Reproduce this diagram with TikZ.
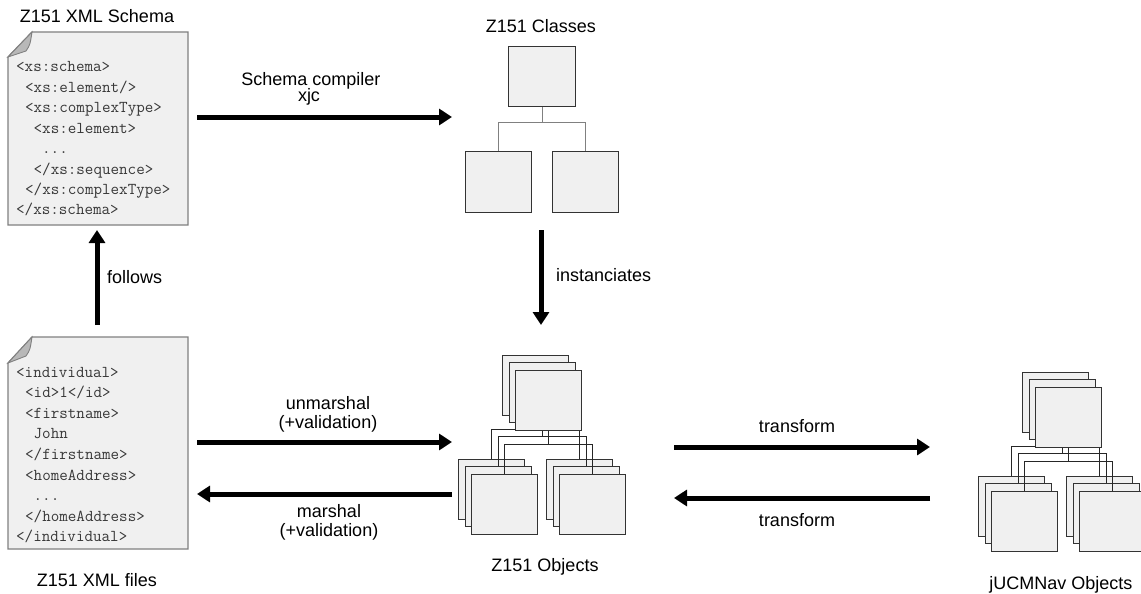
\documentclass[tikz,border=0pt]{standalone}
\usepackage{fontspec}
\setmainfont{Liberation Sans}
\usetikzlibrary{arrows.meta}

\tikzset{
  doc/.style={draw=black!50, line width=1.3pt, fill=black!6},
  fold/.style={draw=black!50, line width=0.9pt, fill=black!28},
  xml/.style={anchor=base west, inner sep=0pt, font=\ttfamily\fontsize{16.6}{18}\selectfont, text=black!78},
  lbl/.style={anchor=base, inner sep=0pt, font=\fontsize{18}{21}\selectfont},
  flow/.style={line width=5pt, -{Triangle[length=13pt,width=16pt]}},
  cls/.style={draw=black!80, line width=1.2pt, fill=black!6, inner sep=0pt,
    minimum width=66pt, minimum height=60pt, anchor=north west},
  obj/.style={draw=black!80, line width=1.1pt, fill=black!6, inner sep=0pt,
    minimum width=66pt, minimum height=60pt, anchor=north west},
  clink/.style={draw=black!50, line width=1pt},
  olink/.style={draw=black!85, line width=1.1pt},
}

\begin{document}
\begin{tikzpicture}[x=1pt,y=-1pt]
\useasboundingbox (0,0) rectangle (1141,594);
\fill[white] (0,0) rectangle (1141,594);
\clip (0,0) rectangle (1141,594);

% ---------- schema document ----------
\draw[doc] (32,32) -- (188,32) -- (188,225) -- (8,225) -- (8,57) -- cycle;
\filldraw[fold] (32,32) -- (8,57) -- (26,51) .. controls (30,45) .. (32,32) -- cycle;
\node[xml] (s1) at (16,72)     {<xs:schema>};
\node[xml] (s2) at (25,92.4)   {<xs:element/>};
\node[xml] (s3) at (25,112.8)  {<xs:complexType>};
\node[xml] (s4) at (33.5,133.2){<xs:element>};
\node[xml] (s5) at (42,153.6)  {...};
\node[xml] (s6) at (33.5,174)  {</xs:sequence>};
\node[xml] (s7) at (25,194.4)  {</xs:complexType>};
\node[xml] (s8) at (16,214.8)  {</xs:schema>};
\node[lbl] (schemaTitle) at (97,23) {Z151 XML Schema};

% ---------- instance document ----------
\draw[doc] (32,337) -- (188,337) -- (188,549) -- (8,549) -- (8,363) -- cycle;
\filldraw[fold] (32,337) -- (8,363) -- (26,356) .. controls (30,350) .. (32,337) -- cycle;
\node[xml] (x1) at (16,377)    {<individual>};
\node[xml] (x2) at (25,397.6)  {<id>1</id>};
\node[xml] (x3) at (25,418.2)  {<firstname>};
\node[xml] (x4) at (33.5,438.8){John};
\node[xml] (x5) at (25,459.4)  {</firstname>};
\node[xml] (x6) at (25,480)    {<homeAddress>};
\node[xml] (x7) at (33.5,500.6){...};
\node[xml] (x8) at (25,521.2)  {</homeAddress>};
\node[xml] (x9) at (16,541.8)  {</individual>};
\node[lbl] (filesTitle) at (97,586) {Z151 XML files};

% ---------- generated classes ----------
\node[cls, minimum width=67pt] (cTop) at (508,46) {};
\node[cls, minimum height=61pt] (cLeft) at (465,151) {};
\node[cls, minimum height=61pt] (cRight) at (552,151) {};
\coordinate (cJoin) at (0,122);
\draw[clink] (cTop.south) -- (cTop.south |- cJoin);
\draw[clink] (cLeft.north) -- (cLeft.north |- cJoin) -- (cRight.north |- cJoin) -- (cRight.north);
\node[lbl] (classesTitle) at (541,33) {Z151 Classes};

% ---------- object trees (three stacked layers each) ----------
\foreach \g/\sx/\sy in {z/0/0, j/520/17}{
  \begin{scope}[shift={(\sx,\sy)}]
    \foreach \k in {0,1,2}{
      \node[obj] (\g t\k) at (502+6.5*\k, 355+7.3*\k) {};
      \node[obj] (\g l\k) at (458+6.5*\k, 459+7.3*\k) {};
      \node[obj] (\g r\k) at (546+6.5*\k, 459+7.3*\k) {};
      \coordinate (\g j\k) at (0, 429.6+7.3*\k);
      \draw[olink] (\g t\k.south) -- (\g t\k.south |- \g j\k);
      \draw[olink] (\g l\k.north) -- (\g l\k.north |- \g j\k)
        -- (\g r\k.north |- \g j\k) -- (\g r\k.north);
    }
  \end{scope}
}
\node[lbl] (objTitle) at (545,571) {Z151 Objects};
\node[lbl] (jucmTitle) at (1061,589) {jUCMNav Objects};

% ---------- flows ----------
\coordinate (compFrom) at (197,117);  \coordinate (compTo) at (452,117);
\coordinate (folFrom) at (97,325);    \coordinate (folTo) at (97,230);
\coordinate (instFrom) at (541,230);  \coordinate (instTo) at (541,325);
\coordinate (unmFrom) at (197,442);   \coordinate (unmTo) at (452,442);
\coordinate (marFrom) at (452,494);   \coordinate (marTo) at (197,494);
\coordinate (trAFrom) at (674,447);   \coordinate (trATo) at (930,447);
\coordinate (trBFrom) at (930,498);   \coordinate (trBTo) at (674,498);

\draw[flow] (compFrom) -- (compTo);
\draw[flow] (folFrom) -- (folTo);
\draw[flow] (instFrom) -- (instTo);
\draw[flow] (unmFrom) -- (unmTo);
\draw[flow] (marFrom) -- (marTo);
\draw[flow] (trAFrom) -- (trATo);
\draw[flow] (trBFrom) -- (trBTo);

\node[lbl] (compL1) at (311,85) {Schema compiler};
\node[lbl] (compL2) at (309,101) {xjc};
\node[lbl, anchor=base west] (folL) at (107,283) {follows};
\node[lbl, anchor=base west] (instL) at (556,281) {instanciates};
\node[lbl] (unmL1) at (328,409) {unmarshal};
\node[lbl] (unmL2) at (328,428) {(+validation)};
\node[lbl] (marL1) at (329,517) {marshal};
\node[lbl] (marL2) at (329,536) {(+validation)};
\node[lbl] (trAL) at (797,432) {transform};
\node[lbl] (trBL) at (797,526) {transform};
\end{tikzpicture}
\end{document}
